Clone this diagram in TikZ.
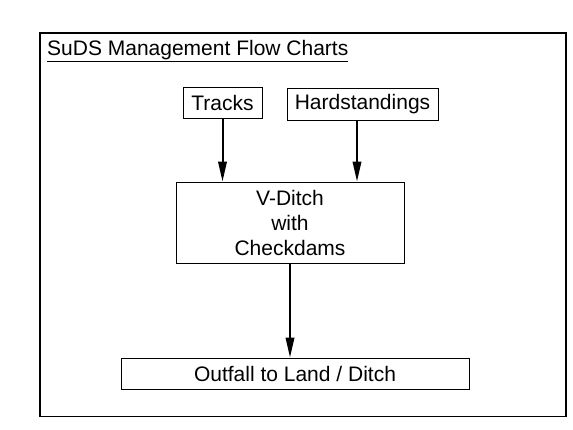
\documentclass[tikz,border=0pt]{standalone}
\usepackage{fontspec}
\setmainfont{Liberation Sans}
\usetikzlibrary{arrows.meta}

\tikzset{
    flowbox/.style={draw, line width=0.9bp, inner sep=0pt, align=center},
}

\begin{document}
\begin{tikzpicture}[x=1bp, y=-1bp, font=\fontsize{21bp}{25bp}\selectfont, >={Triangle[length=20bp, width=8.5bp]}]
    \useasboundingbox (0,0) rectangle (573,429);
    \draw[line width=1.2bp] (40,33) rectangle (566,416.5);
    \node[anchor=base west, inner sep=0pt] (title) at (47,55) {\underline{SuDS Management Flow Charts}};
    \node[flowbox, minimum width=79bp, minimum height=31bp] (tracks) at (222.5,103) {Tracks};
    \node[flowbox, minimum width=151bp, minimum height=32bp] (hard) at (362.5,104) {Hardstandings};
    \node[flowbox, minimum width=228bp, minimum height=81bp] (vditch) at (290,222.5) {V-Ditch\\with\\Checkdams};
    \node[flowbox, minimum width=348bp, minimum height=31bp] (outfall) at (295,373.5) {Outfall to Land / Ditch};
    \path[line width=2bp, ->] (tracks.south) edge (tracks.south |- vditch.north);
    \path[line width=2bp, ->] ([xshift=-5.5bp]hard.south) edge ([xshift=-5.5bp]hard.south |- vditch.north);
    \path[line width=2bp, ->] (vditch.south) edge (vditch.south |- outfall.north);
\end{tikzpicture}
\end{document}
